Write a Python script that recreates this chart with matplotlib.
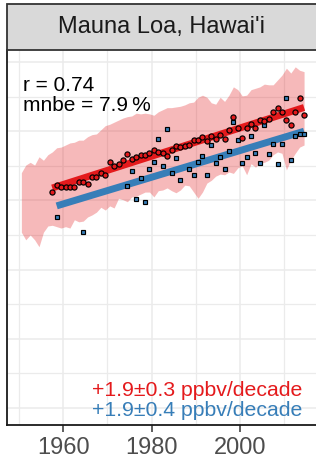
import numpy as np
import matplotlib
matplotlib.use('Agg')
from matplotlib import pyplot as plt
from matplotlib.patches import Rectangle

plt.rcParams['font.family'] = ['Liberation Sans', 'DejaVu Sans']

# model ensemble range (annual, mid-year)
band_years = np.arange(1950, 2015) + 0.5
band_hi = [34.0, 35.1, 35.5, 35.1, 36.3, 35.8, 36.6, 37.0, 37.6, 37.7,
           38.0, 38.3, 38.4, 38.7, 38.7, 39.2, 39.5, 39.6, 40.2, 40.8,
           41.0, 41.3, 41.6, 41.9, 42.1, 42.2, 42.6, 42.5, 42.6, 42.5,
           42.3, 42.8, 43.1, 43.4, 43.4, 43.5, 43.6, 43.8, 44.1, 44.2,
           44.9, 45.2, 44.9, 44.1, 43.9, 44.9, 44.3, 45.2, 46.4, 46.0,
           45.1, 45.2, 46.0, 46.2, 46.4, 46.8, 46.7, 46.7, 47.4, 48.1,
           49.1, 48.4, 49.3, 48.8, 48.6]
band_lo = [25.4, 24.3, 25.0, 24.3, 23.3, 25.4, 26.3, 26.4, 26.2, 26.0,
           26.2, 26.0, 27.2, 26.9, 27.0, 27.6, 27.9, 28.3, 29.0, 28.6,
           29.2, 28.9, 30.3, 30.1, 29.8, 30.5, 30.6, 30.9, 31.2, 31.2,
           30.5, 31.4, 31.5, 31.8, 31.4, 31.1, 31.5, 32.2, 32.1, 31.2,
           30.3, 31.2, 32.5, 32.9, 33.5, 33.8, 33.7, 34.1, 33.9, 34.7,
           35.0, 33.7, 35.3, 34.8, 35.4, 35.5, 35.8, 36.6, 37.0, 36.8,
           34.4, 35.8, 36.8, 37.7, 38.0]

# model mean (red circles)
mod_years = np.arange(1957, 2015) + 0.5
mod_vals = [31.2, 32.2, 32.0, 31.9, 32.0, 31.9, 32.6, 32.6, 32.3, 33.4,
            33.4, 34.0, 33.7, 35.6, 35.0, 35.3, 35.9, 36.7, 36.0, 36.2,
            36.6, 36.5, 36.9, 37.3, 37.0, 36.9, 36.4, 37.3, 37.9, 37.7,
            37.9, 38.0, 38.7, 38.7, 39.2, 38.6, 39.3, 38.8, 39.5, 38.8,
            40.1, 42.0, 40.5, 39.0, 40.5, 41.0, 40.4, 41.6, 41.5, 41.7,
            42.7, 43.3, 42.7, 41.6, 40.9, 42.7, 44.8, 42.3]

# observations (blue squares)
obs_years = np.array([1958, 1964] + list(range(1974, 1987)) + list(range(1988, 2015))) + 0.5
obs_vals = [27.6, 25.5,
            32.1, 34.3, 30.2, 33.3, 29.8, 34.5, 35.6, 38.9, 34.9, 40.3,
            33.9, 36.1, 33.0,
            34.6, 33.6, 35.5, 36.4, 33.7, 38.0, 35.4, 36.2, 34.5, 37.1,
            41.3, 38.7, 35.4, 36.3, 39.3, 36.8, 35.4, 40.9, 36.7, 38.1,
            35.2, 38.2, 44.8, 35.8, 39.3, 39.6, 39.6]

title = "Mauna Loa, Hawai'i"
stats = ['r = 0.74', 'mnbe = 7.9\u2009%']
trend_labels = ['+1.9\u00b10.3 ppbv/decade', '+1.9\u00b10.4 ppbv/decade']

red = '#E41A1C'
blue = '#377EB8'

fig = plt.figure(figsize=(3.16, 4.59), dpi=100)
ax = fig.add_axes([7 / 316, 34 / 459, 309 / 316, 375 / 459])

ax.fill_between(band_years, band_lo, band_hi, color=red, alpha=0.3, lw=0, zorder=1)

# linear trends
for yrs, vals, col in [(obs_years, obs_vals, blue), (mod_years, mod_vals, red)]:
    p = np.polyfit(yrs, vals, 1)
    xx = np.array([yrs[0], yrs[-1]])
    ax.plot(xx, np.polyval(p, xx), color=col, lw=5.0, solid_capstyle='butt', zorder=2)

ax.plot(obs_years, obs_vals, 's', ms=3.4, mfc=blue, mec='black', mew=0.85, zorder=3)
ax.plot(mod_years, mod_vals, 'o', ms=3.7, mfc=red, mec='black', mew=0.85, zorder=4)

ax.set_xlim(1947.25, 2017.2)
ax.set_ylim(-2.46, 51.73)
ax.set_xticks([1960, 1980, 2000])
ax.set_xticks([1950, 1970, 1990, 2010], minor=True)
ax.set_yticks([0, 10, 20, 30, 40, 50])
ax.set_yticks([5, 15, 25, 35, 45], minor=True)
ax.grid(which='major', color='#EBEBEB', lw=1.1, zorder=0)
ax.grid(which='minor', color='#EBEBEB', lw=0.9, zorder=0)
ax.set_axisbelow(True)
ax.tick_params(axis='y', which='both', left=False, labelleft=False)
ax.tick_params(axis='x', which='minor', length=0)
ax.tick_params(axis='x', which='major', length=5, width=1.1, color='#333333',
               labelsize=17, labelcolor='#4D4D4D', pad=4)
for s in ['top', 'right']:
    ax.spines[s].set_visible(False)
for s in ['left', 'bottom']:
    ax.spines[s].set_color('#1A1A1A')
    ax.spines[s].set_linewidth(1.3)

ax.text(0.052, 0.8915, stats[0], transform=ax.transAxes, fontsize=15,
        va='baseline', ha='left', color='black')
ax.text(0.052, 0.838, stats[1], transform=ax.transAxes, fontsize=15,
        va='baseline', ha='left', color='black')
ax.text(0.955, 0.0773, trend_labels[0], transform=ax.transAxes, fontsize=15.3,
        va='baseline', ha='right', color=red)
ax.text(0.955, 0.0248, trend_labels[1], transform=ax.transAxes, fontsize=15.3,
        va='baseline', ha='right', color=blue)

# facet strip
sax = fig.add_axes([7 / 316, 409 / 459, 309 / 316, 46 / 459])
sax.set_xlim(0, 1)
sax.set_ylim(0, 1)
sax.axis('off')
sax.add_patch(Rectangle((0, 0), 1.2, 1, facecolor='#D9D9D9', edgecolor='#333333',
                        lw=1.3, clip_on=False))
sax.text(0.5, 0.5, title, fontsize=17, ha='center', va='center', color='#1A1A1A')

fig.savefig('out.png', dpi=100)
